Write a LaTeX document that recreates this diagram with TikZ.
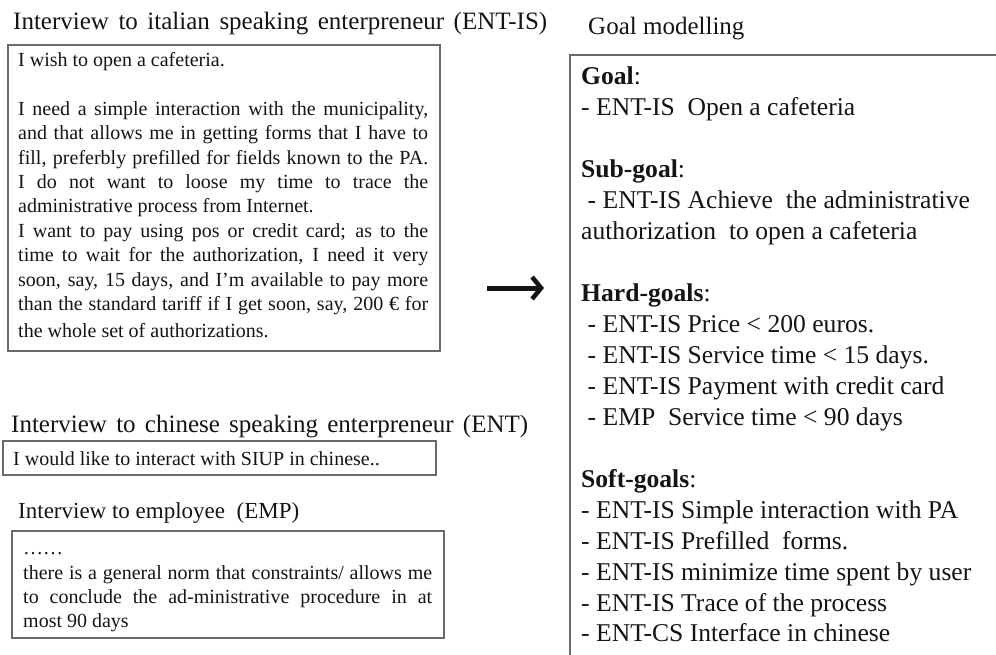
\documentclass[tikz,border=0pt]{standalone}
\usepackage{fontspec}
\setmainfont{Liberation Serif}
\usetikzlibrary{arrows.meta}

\definecolor{boxgray}{RGB}{105,105,105}
\definecolor{ink}{RGB}{20,20,20}

% a justified line: spaces stretched to the given width
\newcommand\jline[2]{\makebox[#1][s]{#2}}

\tikzset{
  frame/.style={draw=boxgray, line width=1.1pt, anchor=north west,
                inner sep=0pt, outer sep=0pt},
  headline/.style={anchor=base west, inner sep=0pt, text=ink,
                   font=\fontsize{25}{30}\selectfont},
  bodyline/.style={anchor=base west, inner sep=0pt, text=ink,
                   font=\fontsize{20}{24}\selectfont},
  goalline/.style={anchor=base west, inner sep=0pt, text=ink,
                   font=\fontsize{25.6}{31}\selectfont},
  bigarrow/.style={draw=ink, line width=5pt,
                   -{Straight Barb[length=9pt,width=22pt,line width=4.5pt]}},
}

\begin{document}
\begin{tikzpicture}[x=1pt, y=-1pt]
\useasboundingbox (0,0) rectangle (996,655);
\clip (0,0) rectangle (996,655);

% ---------- interview with the italian speaking entrepreneur ----------
\node[headline] (t1) at (13,30)
  {\jline{534pt}{Interview to italian speaking enterpreneur (ENT-IS)}};
\node[frame, minimum width=432pt, minimum height=306pt] (box1) at (8,45) {};

\node[bodyline] (b1a) at (18,67)    {I wish to open a cafeteria.};
\node[bodyline] (b1b) at (18,115.7) {\jline{410pt}{I need a simple interaction with the municipality,}};
\node[bodyline] (b1c) at (18,140)   {\jline{410pt}{and that allows me in getting forms that I have to}};
\node[bodyline] (b1d) at (18,164.4) {\jline{410pt}{fill, preferbly prefilled for fields known to the PA.}};
\node[bodyline] (b1e) at (18,188.7) {\jline{410pt}{I do not want to loose my time to trace the}};
\node[bodyline] (b1f) at (18,213)   {administrative process from Internet.};
\node[bodyline] (b1g) at (18,237.4) {\jline{410pt}{I want to pay using pos or credit card; as to the}};
\node[bodyline] (b1h) at (18,261.8) {\jline{410pt}{time to wait for the authorization, I need it very}};
\node[bodyline] (b1i) at (18,286)   {\jline{410pt}{soon, say, 15 days, and I’m available to pay more}};
\node[bodyline] (b1j) at (18,310.5) {\jline{410pt}{than the standard tariff if I get soon, say, 200 € for}};
\node[bodyline] (b1k) at (18,337)   {the whole set of authorizations.};

% ---------- interview with the chinese speaking entrepreneur ----------
\node[headline] (t2) at (11,432)
  {\jline{517pt}{Interview to chinese speaking enterpreneur (ENT)}};
\node[frame, minimum width=433pt, minimum height=34pt] (box2) at (3,441) {};
\node[bodyline] (b2a) at (13,465) {I would like to interact with SIUP in chinese..};

% ---------- interview with the employee ----------
\node[headline, font=\fontsize{23}{28}\selectfont] (t3) at (18,518)
  {Interview to employee\ \ (EMP)};
\node[frame, minimum width=432pt, minimum height=107pt] (box3) at (12,531) {};
\node[bodyline] (b3a) at (23,554) {……};
\node[bodyline] (b3b) at (23,579) {\jline{409pt}{there is a general norm that constraints/ allows me}};
\node[bodyline] (b3c) at (23,603) {\jline{409pt}{to conclude the ad-ministrative procedure in at}};
\node[bodyline] (b3d) at (23,627) {most 90 days};

% ---------- arrow towards the goal model ----------
\coordinate (arrfrom) at (487,288);
\coordinate (arrto)   at (544,288);
\draw[bigarrow] (arrfrom) -- (arrto);

% ---------- goal modelling ----------
\node[headline] (t4) at (588,35) {Goal modelling};
\node[frame, minimum width=450pt, minimum height=620pt] (goalbox) at (570,55) {};

\node[goalline] (g0)  at (581,85)    {\textbf{Goal}:};
\node[goalline] (g1)  at (581,115.9) {- ENT-IS\ \ Open a cafeteria};
\node[goalline] (g3)  at (581,177.8) {\textbf{Sub-goal}:};
\node[goalline] (g4)  at (587.5,208.8) {- ENT-IS Achieve\ \ the administrative};
\node[goalline] (g5)  at (581,239.7) {authorization\ \ to open a cafeteria};
\node[goalline] (g7)  at (581,301.6) {\textbf{Hard-goals}:};
\node[goalline] (g8)  at (587.5,332.5) {- ENT-IS Price < 200 euros.};
\node[goalline] (g9)  at (587.5,363.5) {- ENT-IS Service time < 15 days.};
\node[goalline] (g10) at (587.5,394.4) {- ENT-IS Payment with credit card};
\node[goalline] (g11) at (587.5,425.3) {- EMP\ \ Service time < 90 days};
\node[goalline] (g13) at (581,487.2) {\textbf{Soft-goals}:};
\node[goalline] (g14) at (581,518.2) {- ENT-IS Simple interaction with PA};
\node[goalline] (g15) at (581,549.1) {- ENT-IS Prefilled\ \ forms.};
\node[goalline] (g16) at (581,580)   {- ENT-IS minimize time spent by user};
\node[goalline] (g17) at (581,611)   {- ENT-IS Trace of the process};
\node[goalline] (g18) at (581,641.9) {- ENT-CS Interface in chinese};
\end{tikzpicture}
\end{document}
